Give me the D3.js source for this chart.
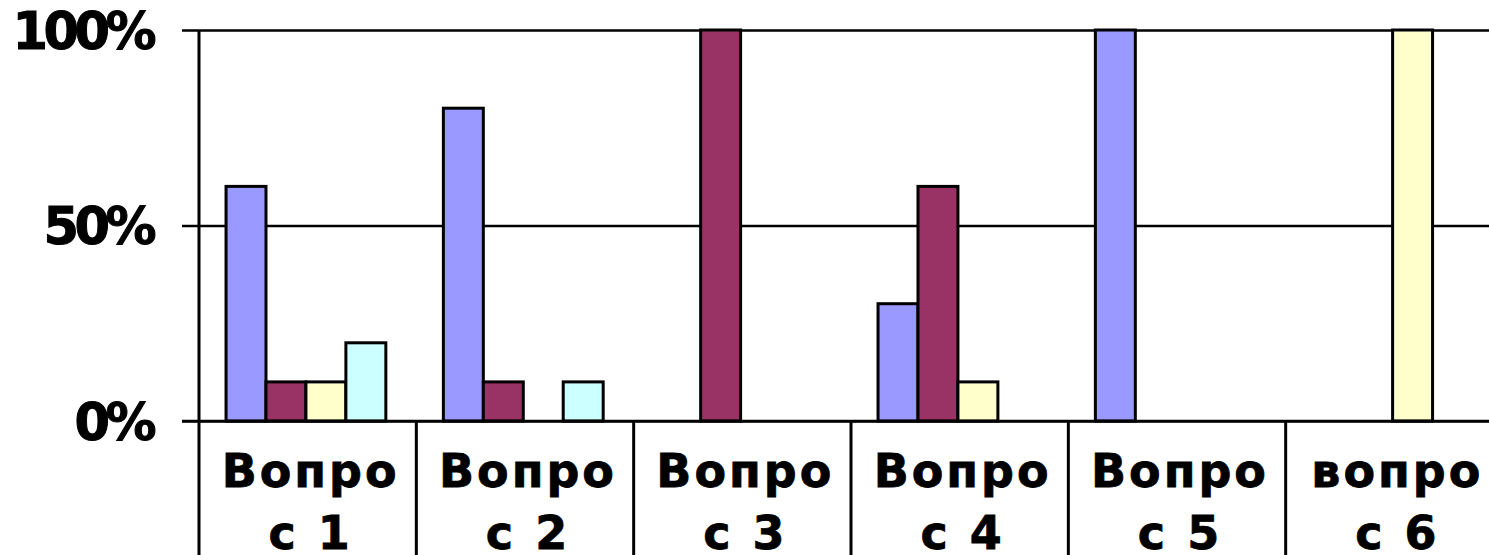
<!DOCTYPE html>
<html>
<head>
<meta charset="utf-8">
<script src="https://cdn.jsdelivr.net/npm/d3@7"></script>
<style>
  html, body { margin: 0; padding: 0; background: #fff; overflow: hidden; }
  svg { display: block; }
  text { font-family: "DejaVu Sans", Verdana, sans-serif; font-weight: bold; fill: #000; }
</style>
</head>
<body>
<svg id="chart" width="1489" height="555"></svg>
<script>
// Question labels (two lines each) and the four answer series, in percent
const categories = ["Вопрос 1", "Вопрос 2", "Вопрос 3", "Вопрос 4", "Вопрос 5", "вопрос 6"];
const categoryLines = [["Вопро", "с 1"], ["Вопро", "с 2"], ["Вопро", "с 3"], ["Вопро", "с 4"], ["Вопро", "с 5"], ["вопро", "с 6"]];
const seriesNames = ["Ряд 1", "Ряд 2", "Ряд 3", "Ряд 4"];
const series1 = [60, 80, 0, 30, 100, 0];
const series2 = [10, 10, 100, 60, 0, 0];
const series3 = [10, 0, 0, 10, 0, 100];
const series4 = [20, 10, 0, 0, 0, 0];
const seriesColors = ["#9999FF", "#993366", "#FFFFCC", "#CCFFFF"];
const yTicks = [0, 50, 100];
const yTickLabels = ["0%", "50%", "100%"];

const allSeries = [series1, series2, series3, series4];

const svg = d3.select("#chart");
const W = 1489, H = 555;
const plot = { left: 199, right: 1503, top: 30, bottom: 421 };

const x = d3.scaleBand().domain(categories).range([plot.left, plot.right]).paddingInner(0).paddingOuter(0);
const xs = d3.scaleBand().domain(seriesNames).range([0, x.bandwidth()]).paddingInner(0).paddingOuter(0.72).align(0.47);
const y = d3.scaleLinear().domain([0, 100]).range([plot.bottom, plot.top]);

// Horizontal gridlines with short ticks on the left, plus percent labels
const yAxis = d3.axisLeft(y)
  .tickValues(yTicks)
  .tickFormat((d, i) => yTickLabels[i])
  .tickSizeInner(-(W - 182))
  .tickSizeOuter(0)
  .tickPadding(30);

const gy = svg.append("g").attr("transform", "translate(182,0)").call(yAxis);
gy.select(".domain").remove();
gy.selectAll(".tick line").attr("stroke", "#000").attr("stroke-width", 2.5);
gy.selectAll(".tick text")
  .attr("font-family", "DejaVu Sans, Verdana, sans-serif")
  .attr("font-weight", "bold")
  .attr("font-size", 51)
  .attr("letter-spacing", -4.5)
  .attr("fill", "#000")
  .attr("stroke", "#000")
  .attr("stroke-width", 1)
  .attr("dy", "0.36em");

// Bars
const rows = categories.map((c, i) => ({ c, values: allSeries.map((s, k) => ({ name: seriesNames[k], v: s[i], k })) }));
const groups = svg.append("g").selectAll("g").data(rows).join("g")
  .attr("transform", d => `translate(${x(d.c)},0)`);
groups.selectAll("rect").data(d => d.values.filter(v => v.v > 0)).join("rect")
  .attr("x", d => xs(d.name))
  .attr("width", xs.bandwidth())
  .attr("y", d => y(d.v))
  .attr("height", d => y(0) - y(d.v))
  .attr("fill", d => seriesColors[d.k])
  .attr("stroke", "#000")
  .attr("stroke-width", 3);

// Redraw the baseline over the bar bottoms
svg.append("line")
  .attr("x1", 182).attr("x2", W)
  .attr("y1", y(0)).attr("y2", y(0))
  .attr("stroke", "#000").attr("stroke-width", 2.5);

// Vertical value axis line, continuing down through the label area
svg.append("line")
  .attr("x1", plot.left).attr("x2", plot.left)
  .attr("y1", y(100)).attr("y2", H)
  .attr("stroke", "#000").attr("stroke-width", 3);

// Category separators below the baseline
const edges = categories.slice(1).map(c => x(c)).concat([plot.right]);
svg.append("g").selectAll("line").data(edges).join("line")
  .attr("x1", d => d).attr("x2", d => d)
  .attr("y1", y(0)).attr("y2", H)
  .attr("stroke", "#000").attr("stroke-width", 3);

// Wrapped category labels
const labels = svg.append("g").selectAll("text").data(rows).join("text")
  .attr("x", d => x(d.c) + x.bandwidth() / 2 + 3)
  .attr("y", 487)
  .attr("text-anchor", "middle")
  .attr("font-size", 46)
  .attr("letter-spacing", 3)
  .attr("stroke", "#000")
  .attr("stroke-width", 0.8);
labels.selectAll("tspan").data((d, i) => categoryLines[i]).join("tspan")
  .attr("x", function () { return this.parentNode.getAttribute("x"); })
  .attr("dy", (d, i) => i === 0 ? 0 : 62)
  .text(d => d);
</script>
</body>
</html>
